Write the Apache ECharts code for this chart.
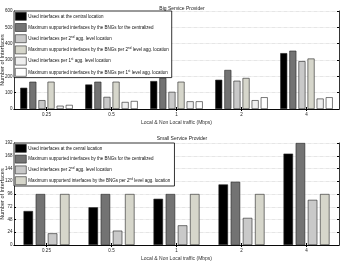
<!DOCTYPE html>
<html>
<head>
<meta charset="utf-8">
<script src="https://cdn.jsdelivr.net/npm/echarts@6/dist/echarts.min.js"></script>
<style>
html, body { margin: 0; padding: 0; background: #fff; }
#main { width: 342px; height: 261px; }
</style>
</head>
<body>
<div id="main"></div>
<script>
var categories = ['0.25', '0.5', '1', '2', '4'];

// Big Service Provider
var bigUsedCentral = [130, 150, 171, 179, 342];
var bigMaxCentral = [167, 167, 190, 239, 357];
var bigUsed2nd = [54, 74, 105, 173, 293];
var bigMax2nd = [167, 167, 167, 190, 309];
var bigUsed1st = [20, 43, 47, 54, 64];
var bigMax1st = [25, 49, 47, 72, 72];
var bigTicks = [0, 100, 200, 300, 400, 500, 600];

// Small Service Provider
var smallUsedCentral = [64, 71, 87, 114, 172];
var smallMaxCentral = [96, 96, 96, 119, 192];
var smallUsed2nd = [22, 27, 37, 51, 85];
var smallMax2nd = [96, 96, 96, 96, 96];
var smallTicks = [0, 24, 48, 72, 96, 120, 144, 168, 192];

var names = [
	'Used interfaces at the central location',
	'Maximum supported interfaces by the BNGs for the centralized',
	'Used interfaces per 2nd agg. level location',
	'Maximum supported interfaces by the BNGs per 2nd level agg. location',
	'Used interfaces per 1st agg. level location',
	'Maximum supported interfaces by the BNGs per 1st level agg. location'
];
var namesSmall = [
	'Used interfaces at the cenral location',
	'Maximum supported interfaces by the BNGs for the centralized',
	'Used interfaces per 2nd agg. level location',
	'Maximum supporterd interfaces by the BNGs per 2nd level agg. location'
];
var colors = ['#000000', '#737373', '#c9c9c9', '#d6d6cb', '#efefef', '#ffffff'];

var font = 'Liberation Sans';

function legendFmt(n) {
	return n.replace(/(\d)(nd|st)/, '$1{s|$2}');
}

function makeBar(name, data, idx, ax, w, gap) {
	return {
		name: name,
		type: 'bar',
		xAxisIndex: ax,
		yAxisIndex: ax,
		data: data,
		barWidth: w,
		barGap: gap,
		itemStyle: {
			color: colors[idx],
			borderColor: '#222',
			borderWidth: 0.6
		}
	};
}

function yPair(gi, ticks) {
	var step = ticks[1] - ticks[0];
	return [{
		type: 'value',
		gridIndex: gi,
		min: ticks[0],
		max: ticks[ticks.length - 1],
		interval: step,
		name: 'Number of Interfaces',
		nameLocation: 'middle',
		nameGap: 9,
		nameMoveOverlap: false,
		nameTextStyle: { fontSize: 5.5, color: '#222', fontFamily: font },
		axisLine: { show: true, lineStyle: { color: '#000', width: 0.8 } },
		axisTick: { show: true, inside: true, length: 2, lineStyle: { color: '#000' } },
		axisLabel: { fontSize: 4.5, color: '#222', margin: 1.5, fontFamily: font },
		splitLine: { show: true, lineStyle: { color: '#bbb', type: 'dotted', width: 0.6 } }
	}, {
		type: 'value',
		gridIndex: gi,
		position: 'right',
		min: ticks[0],
		max: ticks[ticks.length - 1],
		interval: step,
		axisLine: { show: true, lineStyle: { color: '#000', width: 0.8 } },
		axisTick: { show: true, inside: true, length: 2, lineStyle: { color: '#000' } },
		axisLabel: { show: false },
		splitLine: { show: false }
	}];
}

function xPair(gi) {
	return [{
		type: 'category',
		gridIndex: gi,
		data: categories,
		name: 'Local & Non Local traffic (Mbps)',
		nameLocation: 'middle',
		nameGap: 11,
		nameMoveOverlap: false,
		nameTextStyle: { fontSize: 5, color: '#333', fontFamily: font },
		axisLine: { show: true, lineStyle: { color: '#000', width: 0.8 } },
		axisTick: { show: true, inside: true, alignWithLabel: true, length: 2, lineStyle: { color: '#000' } },
		axisLabel: { fontSize: 4.5, color: '#222', margin: 3, fontFamily: font }
	}, {
		type: 'category',
		gridIndex: gi,
		position: 'top',
		data: categories,
		axisLine: { show: true, lineStyle: { color: '#000', width: 0.8 } },
		axisTick: { show: true, inside: true, alignWithLabel: true, length: 2, lineStyle: { color: '#000' } },
		axisLabel: { show: false }
	}];
}

var yAxes = yPair(0, bigTicks).concat(yPair(1, smallTicks));
var xAxes = xPair(0).concat(xPair(1));
// axes 0 and 2 carry the bars; 1 and 3 are only the top/right frame
var series = [];
var bigData = [bigUsedCentral, bigMaxCentral, bigUsed2nd, bigMax2nd, bigUsed1st, bigMax1st];
for (var i = 0; i < bigData.length; i++) {
	series.push(makeBar(names[i], bigData[i], i, 0, 7, '30%'));
}
var smallData = [smallUsedCentral, smallMaxCentral, smallUsed2nd, smallMax2nd];
for (var j = 0; j < smallData.length; j++) {
	// trailing space keeps the names apart from the top legend
	series.push(makeBar(namesSmall[j] + ' ', smallData[j], j, 2, 9.5, '28%'));
}

var legendBase = {
	orient: 'vertical',
	left: 14,
	backgroundColor: '#fff',
	borderColor: '#000',
	borderWidth: 0.8,
	padding: [1, 3, 1, 1],
	icon: 'rect',
	itemWidth: 11,
	itemHeight: 8,
	itemGap: 2.6,
	itemStyle: { borderColor: '#222', borderWidth: 0.6 },
	textStyle: {
		fontSize: 4.5,
		color: '#111',
		fontFamily: font,
		padding: [0, 0, 0, -3],
		rich: { s: { fontSize: 3, verticalAlign: 'top', padding: [0, 0, 3, 0], fontFamily: font } }
	},
	formatter: legendFmt,
	selectedMode: false,
	z: 10
};

var legendTop = Object.assign({}, legendBase, { top: 11, data: names.slice() });
var legendBottom = Object.assign({}, legendBase, {
	top: 143,
	itemGap: 2.2,
	data: namesSmall.map(function(n) { return n + ' '; })
});

var chart = echarts.init(document.getElementById('main'), null, { renderer: 'canvas' });
var option = {
	animation: false,
	color: colors,
	title: [{
		text: 'Big Service Provider',
		left: 177,
		textAlign: 'center',
		top: 1,
		textStyle: { fontSize: 5, fontWeight: 'normal', color: '#222', fontFamily: font }
	}, {
		text: 'Small Service Provider',
		left: 177,
		textAlign: 'center',
		top: 131,
		textStyle: { fontSize: 5, fontWeight: 'normal', color: '#222', fontFamily: font }
	}],
	legend: [legendTop, legendBottom],
	grid: [
		{ left: 14, right: 3, top: 11, height: 98, outerBoundsMode: 'none', containLabel: false },
		{ left: 14, right: 3, top: 143, height: 102, outerBoundsMode: 'none', containLabel: false }
	],
	xAxis: xAxes,
	yAxis: yAxes,
	series: series
};
chart.setOption(option);
window.onresize = chart.resize;
</script>
</body>
</html>
